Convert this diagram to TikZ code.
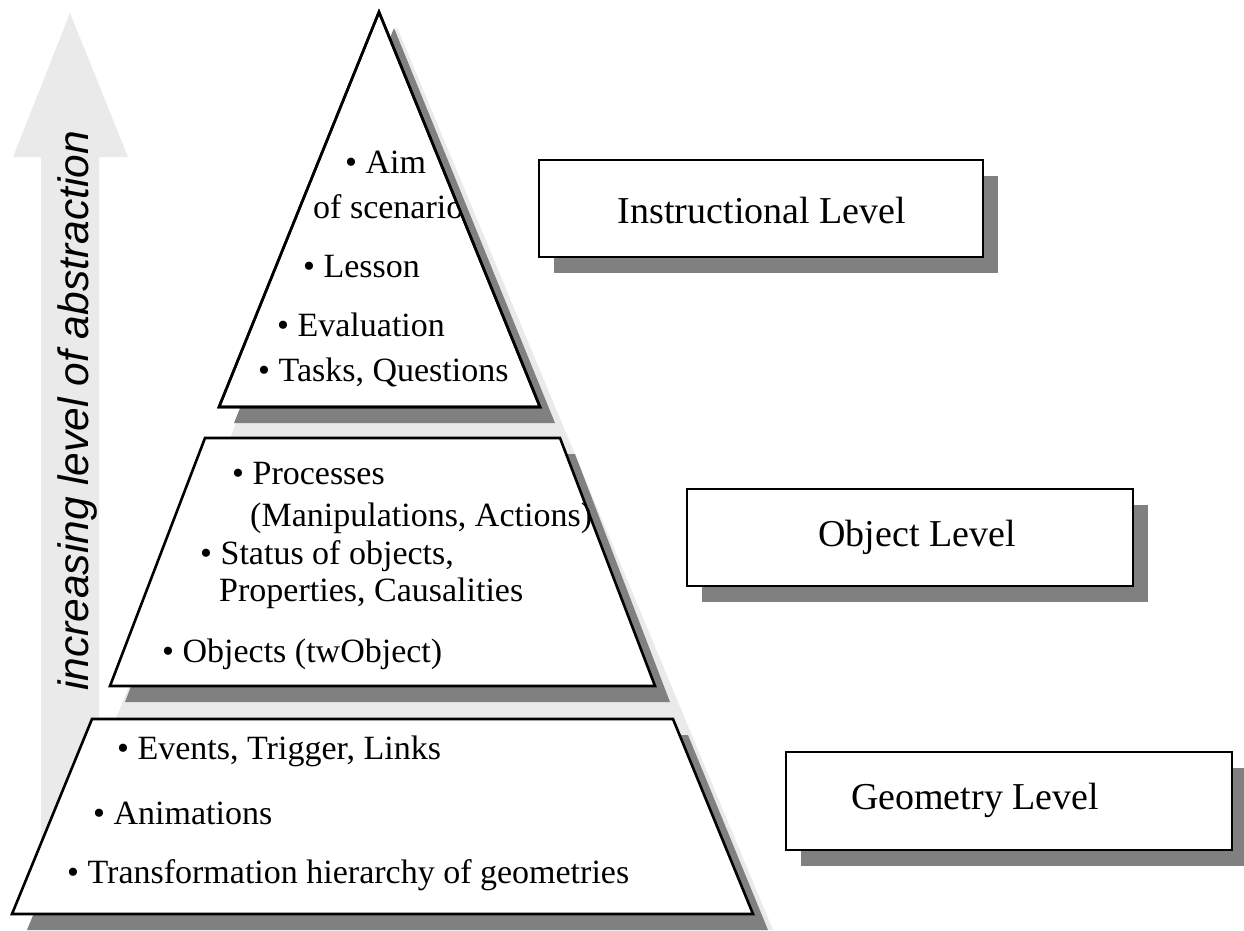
\documentclass[tikz,border=0pt]{standalone}
\usepackage{fontspec}
\setmainfont{Liberation Serif}
\newfontfamily\arrowfont{Liberation Sans}
\usetikzlibrary{shadows}
\definecolor{shadowgray}{HTML}{808080}
\definecolor{palegray}{HTML}{EAEAEA}
\begin{document}
\begin{tikzpicture}[x=1pt,y=-1pt,
  tier/.style={draw=black,line width=2.6pt,fill=white,line join=miter},
  drop/.style={fill=shadowgray},
  item/.style={anchor=west,inner sep=0pt,font=\fontsize{34}{40}\selectfont},
  levelbox/.style={draw=black,line width=2.6pt,fill=white,inner sep=0pt,
    drop shadow={shadow xshift=15pt,shadow yshift=-16pt,fill=shadowgray,opacity=1}},
  levellabel/.style={inner sep=0pt,font=\fontsize{38}{44}\selectfont}]
\useasboundingbox (0,0) rectangle (1244,930);

% abstraction arrow
\fill[palegray] (41,870) -- (41,157) -- (13,157) -- (70,13) -- (128,157)
  -- (99,157) -- (99,870) -- cycle;
\node[rotate=90,inner sep=0pt,font=\arrowfont\itshape\fontsize{42.5}{48}\selectfont]
  (abstr) at (78,411) {increasing level of abstraction};

% pale backdrop of the pyramid
\fill[palegray] (397,27) -- (773,930) -- (30,930) -- cycle;

% tier shadows
\fill[drop,shift={(15,16)}] (379,12) -- (540,407) -- (219,407) -- cycle;
\fill[drop,shift={(15,16)}] (205,438) -- (560,438) -- (655,686) -- (110,686) -- cycle;
\fill[drop,shift={(15,16)}] (92,719) -- (673,719) -- (753,914) -- (12,914) -- cycle;

% top tier
\path[tier] (379,12) -- (540,407) -- (219,407) -- cycle;
\begin{scope}
  \clip (379,12) -- (540,407) -- (219,407) -- cycle;
  \node[item] (aim) at (345,162) {\textbullet\ Aim};
  \node[item] (scen) at (313,207) {of scenario};
  \node[item] (lesson) at (303,267) {\textbullet\ Lesson};
  \node[item] (eval) at (277,325) {\textbullet\ Evaluation};
  \node[item] (tasks) at (258,372) {\textbullet\ Tasks, Questions};
\end{scope}
\path[draw=black,line width=2.6pt,line join=miter] (379,12) -- (540,407) -- (219,407) -- cycle;

% middle tier
\path[tier] (205,438) -- (560,438) -- (655,686) -- (110,686) -- cycle;
\node[item] (proc) at (232,474) {\textbullet\ Processes};
\node[item] (manip) at (250,518) {(Manipulations, Actions)};
\node[item] (status) at (200,556) {\textbullet\ Status of objects,};
\node[item] (props) at (219,593) {Properties, Causalities};
\node[item] (objs) at (162,654) {\textbullet\ Objects (twObject)};

% bottom tier
\path[tier] (92,719) -- (673,719) -- (753,914) -- (12,914) -- cycle;
\node[item] (events) at (117,751) {\textbullet\ Events, Trigger, Links};
\node[item] (anim) at (93,813) {\textbullet\ Animations};
\node[item] (trans) at (67,875) {\textbullet\ Transformation hierarchy of geometries};

% level boxes
\node[levelbox,minimum width=444pt,minimum height=97pt] (instbox) at (761,208.5) {};
\node[levellabel] (inst) at (762,210) {Instructional Level};
\node[levelbox,minimum width=446pt,minimum height=97pt] (objbox) at (910,537.5) {};
\node[levellabel] (obj) at (917,537) {Object Level};
\node[levelbox,minimum width=446pt,minimum height=98pt] (geobox) at (1009,801) {};
\node[levellabel] (geo) at (975,800) {Geometry Level};
\end{tikzpicture}
\end{document}
